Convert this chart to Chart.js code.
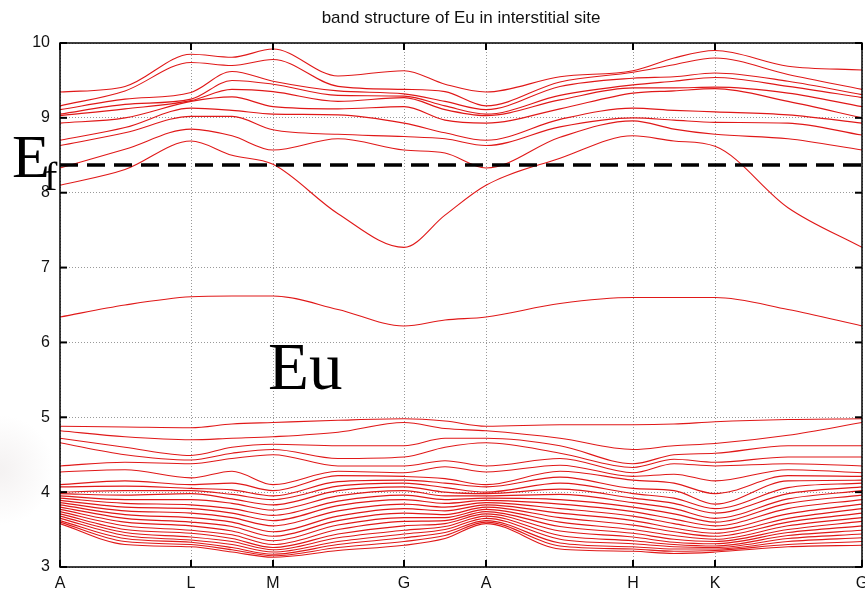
<!DOCTYPE html>
<html>
<head>
<meta charset="utf-8">
<title>band structure of Eu in interstitial site</title>
<script src="https://cdn.jsdelivr.net/npm/chart.js@4.4.1/dist/chart.umd.min.js"></script>
<style>
  html, body { margin: 0; padding: 0; background: #fff; }
  #wrap { width: 865px; height: 591px; }
</style>
</head>
<body>
<div id="wrap"><canvas id="bands" width="865" height="591"></canvas></div>
<script>
// high-symmetry path A-L-M-G-A-H-K-G (distance along the k path)
const kLabels = ["A", "L", "M", "G", "A", "H", "K", "G"];
const kTicks = [0, 131, 213, 344, 426, 573, 655, 802];
// k positions where energies were sampled (symmetry points + segment midpoints)
const kSample = [0, 65, 131, 172, 213, 278, 344, 385, 426, 500, 573, 614, 655, 728, 802];
const yTicks = [3, 4, 5, 6, 7, 8, 9, 10];
const eFermi = 8.37;
const titleText = "band structure of Eu in interstitial site";

// bands above 7 eV, one row per k sample, sorted high to low
const upperCols = [
    [9.345, 9.16, 9.11, 9.05, 9.03, 8.93, 8.70, 8.63, 8.33, 8.10], // A
    [9.42, 9.36, 9.25, 9.18, 9.12, 9.00, 8.87, 8.80, 8.58, 8.31],
    [9.85, 9.74, 9.34, 9.25, 9.23, 9.22, 9.13, 9.02, 8.85, 8.69], // L
    [9.81, 9.70, 9.62, 9.50, 9.38, 9.28, 9.10, 9.02, 8.76, 8.50],
    [9.92, 9.78, 9.49, 9.45, 9.35, 9.15, 9.05, 8.84, 8.57, 8.38], // M
    [9.56, 9.42, 9.36, 9.30, 9.22, 9.12, 9.04, 8.78, 8.72, 7.72],
    [9.63, 9.38, 9.32, 9.29, 9.27, 9.15, 8.93, 8.75, 8.57, 7.27], // G
    [9.45, 9.35, 9.22, 9.16, 9.11, 8.97, 8.80, 8.72, 8.53, 7.70],
    [9.345, 9.16, 9.11, 9.05, 9.03, 8.93, 8.70, 8.63, 8.33, 8.10], // A
    [9.55, 9.48, 9.42, 9.30, 9.24, 9.12, 8.98, 8.88, 8.74, 8.46],
    [9.63, 9.61, 9.53, 9.44, 9.40, 9.33, 9.13, 9.00, 8.96, 8.76], // H
    [9.80, 9.71, 9.55, 9.49, 9.40, 9.36, 9.10, 8.97, 8.85, 8.69],
    [9.90, 9.80, 9.60, 9.54, 9.41, 9.39, 9.08, 8.94, 8.78, 8.62], // K
    [9.69, 9.58, 9.49, 9.42, 9.33, 9.22, 9.04, 8.93, 8.72, 7.80],
    [9.64, 9.38, 9.31, 9.27, 9.15, 9.00, 8.93, 8.77, 8.57, 7.27]  // G
];

// the isolated Eu level around 6.2 - 6.6 eV
const euBand = [6.34, 6.50, 6.61, 6.62, 6.62, 6.44, 6.22, 6.30, 6.34, 6.52, 6.60, 6.60, 6.60, 6.44, 6.22];

// dense group of bands between 3 and 5 eV, sorted high to low
const lowerCols = [
    [4.88, 4.82, 4.72, 4.66, 4.35, 4.27, 4.10, 4.07, 4.00, 3.98, 3.95, 3.92, 3.89, 3.86, 3.83, 3.80, 3.77, 3.74, 3.71, 3.68, 3.65, 3.62, 3.60, 3.58], // A
    [4.87, 4.74, 4.60, 4.50, 4.40, 4.30, 4.15, 4.08, 4.02, 3.96, 3.90, 3.85, 3.80, 3.75, 3.70, 3.65, 3.60, 3.55, 3.50, 3.46, 3.42, 3.38, 3.34, 3.30],
    [4.86, 4.70, 4.49, 4.43, 4.38, 4.19, 4.10, 4.05, 4.02, 3.98, 3.90, 3.83, 3.78, 3.72, 3.66, 3.60, 3.55, 3.49, 3.45, 3.40, 3.36, 3.33, 3.30, 3.27], // L
    [4.91, 4.72, 4.60, 4.52, 4.45, 4.28, 4.12, 4.03, 3.97, 3.91, 3.85, 3.78, 3.72, 3.66, 3.60, 3.54, 3.48, 3.43, 3.38, 3.34, 3.30, 3.26, 3.23, 3.20],
    [4.93, 4.74, 4.64, 4.57, 4.50, 4.10, 4.02, 3.95, 3.90, 3.83, 3.76, 3.69, 3.62, 3.55, 3.47, 3.41, 3.35, 3.30, 3.26, 3.23, 3.20, 3.17, 3.15, 3.13], // M
    [4.96, 4.80, 4.62, 4.45, 4.35, 4.28, 4.22, 4.14, 4.08, 4.02, 3.95, 3.88, 3.82, 3.75, 3.68, 3.62, 3.56, 3.50, 3.44, 3.39, 3.34, 3.30, 3.26, 3.22],
    [4.98, 4.93, 4.62, 4.47, 4.35, 4.26, 4.21, 4.16, 4.12, 4.07, 4.02, 3.96, 3.90, 3.84, 3.78, 3.72, 3.66, 3.61, 3.55, 3.49, 3.44, 3.39, 3.34, 3.29], // G
    [4.95, 4.85, 4.72, 4.60, 4.42, 4.34, 4.18, 4.12, 4.06, 4.00, 3.95, 3.90, 3.85, 3.80, 3.75, 3.70, 3.66, 3.62, 3.58, 3.54, 3.50, 3.46, 3.42, 3.38],
    [4.88, 4.82, 4.72, 4.66, 4.35, 4.27, 4.10, 4.07, 4.00, 3.98, 3.95, 3.92, 3.89, 3.86, 3.83, 3.80, 3.77, 3.74, 3.71, 3.68, 3.65, 3.62, 3.60, 3.58], // A
    [4.90, 4.72, 4.62, 4.52, 4.45, 4.36, 4.28, 4.20, 4.12, 4.04, 3.97, 3.90, 3.84, 3.78, 3.72, 3.66, 3.60, 3.54, 3.48, 3.42, 3.37, 3.32, 3.28, 3.24],
    [4.90, 4.57, 4.38, 4.33, 4.26, 4.21, 4.16, 4.05, 3.98, 3.92, 3.86, 3.80, 3.74, 3.68, 3.62, 3.56, 3.50, 3.45, 3.40, 3.35, 3.31, 3.27, 3.24, 3.21], // H
    [4.91, 4.62, 4.50, 4.44, 4.38, 4.24, 4.12, 4.02, 3.92, 3.85, 3.78, 3.71, 3.64, 3.58, 3.52, 3.47, 3.42, 3.37, 3.33, 3.30, 3.27, 3.24, 3.21, 3.18],
    [4.94, 4.65, 4.52, 4.40, 4.35, 4.15, 3.98, 3.84, 3.78, 3.72, 3.65, 3.60, 3.55, 3.50, 3.45, 3.41, 3.37, 3.34, 3.31, 3.28, 3.26, 3.24, 3.22, 3.20], // K
    [4.97, 4.76, 4.62, 4.47, 4.38, 4.30, 4.22, 4.15, 4.06, 3.98, 3.91, 3.85, 3.78, 3.71, 3.65, 3.60, 3.55, 3.50, 3.46, 3.42, 3.38, 3.34, 3.30, 3.27],
    [4.98, 4.93, 4.62, 4.47, 4.35, 4.26, 4.21, 4.16, 4.12, 4.07, 4.02, 3.96, 3.90, 3.84, 3.78, 3.72, 3.66, 3.61, 3.55, 3.49, 3.44, 3.39, 3.34, 3.29]  // G
];

const bandRed = "rgb(224, 24, 24)";
const sansFont = "'Liberation Sans', Arial, Helvetica, sans-serif";
const serifFont = "'Liberation Serif', 'Times New Roman', serif";

// rows are k samples -> turn them into one series per band
function toBands(cols) {
    return cols[0].map((_, b) => cols.map(col => col[b]));
}

function bandDataset(values) {
    return {
        data: kSample.map((k, i) => ({ x: k, y: values[i] })),
        showLine: true,
        borderColor: bandRed,
        borderWidth: 1.1,
        pointRadius: 0,
        cubicInterpolationMode: "monotone",
        fill: false
    };
}

const datasets = [
    {
        // Fermi level, drawn on top of the bands
        data: [{ x: kTicks[0], y: eFermi }, { x: kTicks[kTicks.length - 1], y: eFermi }],
        showLine: true,
        borderColor: "#000",
        borderWidth: 3.5,
        borderDash: [18, 9],
        pointRadius: 0
    },
    ...toBands(upperCols).map(bandDataset),
    bandDataset(euBand),
    ...toBands(lowerCols).map(bandDataset)
];

// white page, gnuplot-style frame with inward ticks, and the text labels
const framePlugin = {
    id: "frame",
    beforeDraw(chart) {
        const ctx = chart.ctx;
        ctx.save();
        ctx.fillStyle = "#fff";
        ctx.fillRect(0, 0, chart.width, chart.height);
        // faint smudge at the left margin
        const g = ctx.createRadialGradient(0, 470, 4, 0, 470, 55);
        g.addColorStop(0, "rgba(215, 205, 205, 0.25)");
        g.addColorStop(1, "rgba(215, 205, 205, 0)");
        ctx.fillStyle = g;
        ctx.fillRect(0, 400, 58, 150);
        ctx.restore();
    },
    afterDraw(chart) {
        const { ctx, chartArea: a, scales: { x, y } } = chart;
        const seg = (x1, y1, x2, y2) => {
            ctx.beginPath();
            ctx.moveTo(x1, y1);
            ctx.lineTo(x2, y2);
            ctx.stroke();
        };
        ctx.save();
        ctx.strokeStyle = "#000";
        ctx.lineWidth = 1.5;
        ctx.strokeRect(a.left, a.top, a.right - a.left, a.bottom - a.top);
        ctx.lineWidth = 2;
        yTicks.forEach(v => {
            const py = y.getPixelForValue(v);
            seg(a.left, py, a.left + 7, py);
            seg(a.right, py, a.right - 7, py);
        });
        kTicks.forEach(v => {
            const px = x.getPixelForValue(v);
            seg(px, a.bottom, px, a.bottom - 7);
            seg(px, a.top, px, a.top + 7);
        });

        ctx.fillStyle = "#111";
        ctx.textAlign = "center";
        ctx.textBaseline = "alphabetic";
        ctx.font = "17px " + sansFont;
        ctx.fillText(titleText, (a.left + a.right) / 2, 23);

        ctx.fillStyle = "#000";
        ctx.textAlign = "left";
        ctx.font = "62px " + serifFont;
        ctx.fillText("E", 12, 177);
        ctx.font = "40px " + serifFont;
        ctx.fillText("f", 44, 190);
        ctx.font = "67px " + serifFont;
        ctx.fillText("Eu", 268, 389);
        ctx.restore();
    }
};

const ctx = document.getElementById("bands").getContext("2d");
const bandChart = new Chart(ctx, {
    type: "scatter",
    data: { datasets: datasets },
    options: {
        responsive: false,
        animation: false,
        devicePixelRatio: 1,
        layout: { padding: { top: 43, right: 3, bottom: 0, left: 0 } },
        plugins: {
            legend: { display: false },
            tooltip: { enabled: false },
            title: { display: false }
        },
        scales: {
            x: {
                type: "linear",
                min: kTicks[0],
                max: kTicks[kTicks.length - 1],
                afterBuildTicks: (scale) => {
                    scale.ticks = kTicks.map(v => ({ value: v }));
                },
                afterFit: (scale) => {
                    scale.height = 24;
                    scale.paddingLeft = 0;
                    scale.paddingRight = 0;
                },
                ticks: {
                    autoSkip: false,
                    maxRotation: 0,
                    padding: 7,
                    color: "#111",
                    font: { family: sansFont, size: 16 },
                    callback: (value, index) => kLabels[index]
                },
                grid: { color: "#999", lineWidth: 1, drawTicks: false },
                border: { display: false, dash: [1, 2] }
            },
            y: {
                type: "linear",
                min: 3,
                max: 10,
                afterBuildTicks: (scale) => {
                    scale.ticks = yTicks.map(v => ({ value: v }));
                },
                afterFit: (scale) => {
                    scale.width = 60;
                    scale.paddingTop = 0;
                    scale.paddingBottom = 0;
                },
                ticks: {
                    padding: 10,
                    color: "#111",
                    font: { family: sansFont, size: 16 }
                },
                grid: { color: "#999", lineWidth: 1, drawTicks: false },
                border: { display: false, dash: [1, 2] }
            }
        }
    },
    plugins: [framePlugin]
});
</script>
</body>
</html>
